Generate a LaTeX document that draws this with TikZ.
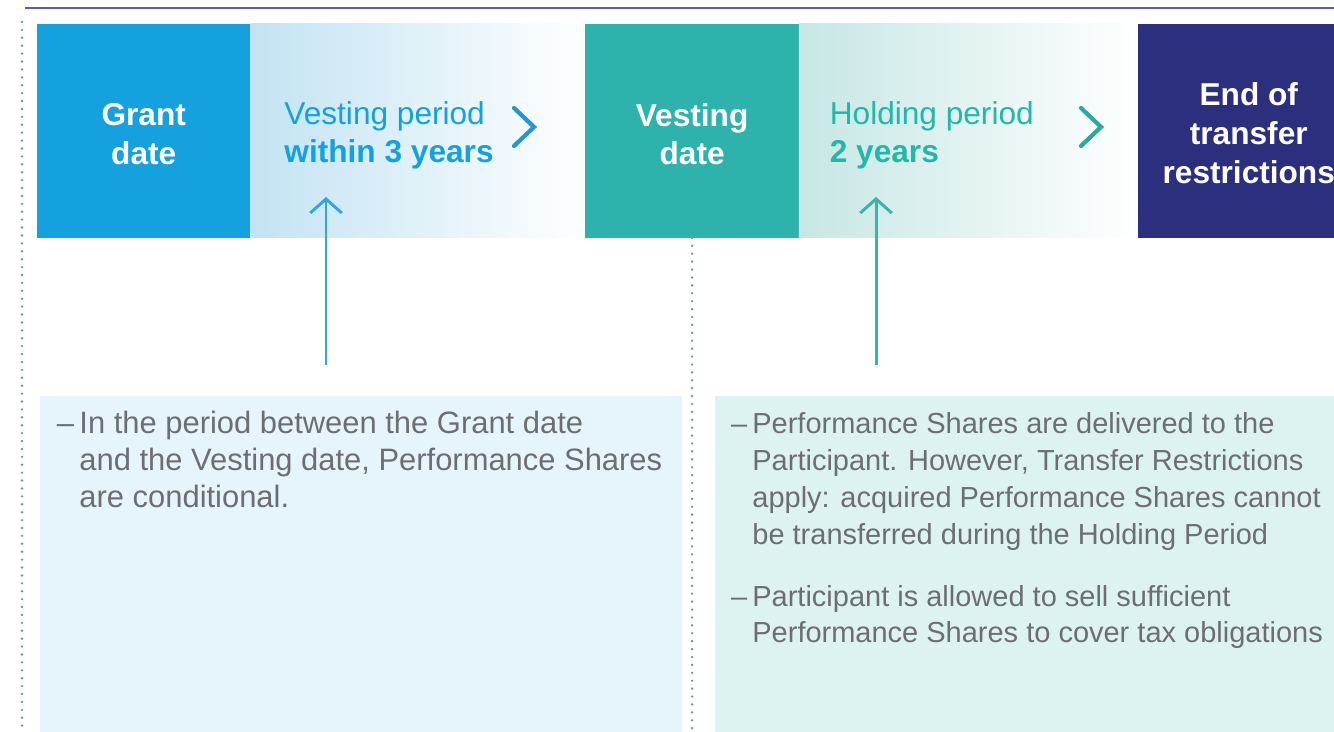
\documentclass[tikz,border=0pt]{standalone}
\usepackage{fontspec}
\setmainfont{Liberation Sans}
\usetikzlibrary{arrows.meta,positioning}
\definecolor{TopRule}{HTML}{5B57C9}
\definecolor{GrantBlue}{HTML}{15A1DD}
\definecolor{VestShade}{HTML}{C2E3F2}
\definecolor{VestTeal}{HTML}{2DB3AC}
\definecolor{HoldShade}{HTML}{C6E7E5}
\definecolor{EndNavy}{HTML}{2B2F7D}
\definecolor{ChevBlue}{HTML}{2596CF}
\definecolor{ChevTeal}{HTML}{2BAC9B}
\definecolor{ArrowBlue}{HTML}{38A6DE}
\definecolor{ArrowTeal}{HTML}{3AB4A8}
\definecolor{HoldText}{HTML}{22B8A6}
\definecolor{NoteBlue}{HTML}{E6F5FC}
\definecolor{NoteTeal}{HTML}{DDF3F1}
\definecolor{NoteText}{HTML}{6D6E72}
\definecolor{DotGrey}{HTML}{6F9499}
\tikzset{every node/.style={inner sep=0pt,outer sep=0pt},
 stage/.style={minimum width=4.27cm,minimum height=4.28cm},
 stagetext/.style={text=white,align=center,font=\fontsize{18}{22}\selectfont\bfseries},
 period/.style={minimum height=4.28cm},
 phase/.style={align=left,font=\fontsize{18}{22}\selectfont},
 chev/.style={line width=2.4pt,line cap=round,line join=miter},
 uparrow/.style={line width=1.7pt,-{Straight Barb[length=8pt,width=18pt,line width=1.7pt]}},
 dotline/.style={DotGrey,line width=1.5pt,line cap=round,dash pattern=on 0pt off 4.5pt},
 note/.style={minimum height=7cm,anchor=north west},
 notetext/.style={anchor=north west,text=NoteText,font=\fontsize{16.5}{21}\selectfont}}

\begin{document}
\begin{tikzpicture}[x=0.02cm,y=-0.02cm]
\useasboundingbox (0,0) rectangle (1334,732);
\clip (0,0) rectangle (1334,732);
\draw[TopRule,line width=0.9pt] (25,8) -- (1340,8);
\draw[dotline] (22,22) -- (22,736);

\node[stage,fill=GrantBlue,anchor=north west] (grant) at (37,24) {};
\node[period,minimum width=6.7cm,left color=VestShade,right color=white,right=0pt of grant] (vestper) {};
\node[stage,fill=VestTeal,right=0pt of vestper] (vest) {};
\node[period,minimum width=6.78cm,left color=HoldShade,right color=white,right=0pt of vest] (holdper) {};
\node[stage,fill=EndNavy,minimum width=4.44cm,right=0pt of holdper] (end) {};
\node[stagetext] (granttxt) at ([yshift=-1.8pt]grant.center) {Grant\\date};
\node[stagetext] (vestdtxt) at ([yshift=-1.8pt]vest.center) {Vesting\\date};
\node[stagetext] (endtxt) at ([yshift=-1.2pt]end.center) {End of\\transfer\\restrictions};

\node[phase,text=GrantBlue,right=0.68cm of grant,yshift=-2.4pt] (vesttxt) {Vesting period\\\textbf{within 3 years}};
\node[phase,text=HoldText,right=0.62cm of vest,yshift=-2.4pt] (holdtxt) {Holding period\\\textbf{2 years}};
\draw[chev,ChevBlue] (514,108) -- (534,127) -- (514,146);
\draw[chev,ChevTeal] (1081,108) -- (1101,127) -- (1081,146);

\draw[dotline] (vest.south) -- (vest.south |- 0,736);

\node[note,fill=NoteBlue,minimum width=12.84cm] (note1) at (40,396) {};
\node[note,fill=NoteTeal,minimum width=12.6cm] (note2) at (715,396) {};
\node[notetext,font=\fontsize{17.6}{21}\selectfont] (txt1) at ([xshift=0.34cm,yshift=-0.24cm]note1.north west)
 {\begin{tabular}{@{}l@{\hspace{3pt}}l@{}}
 -- & In the period between the Grant date\\
    & and the Vesting date, Performance Shares\\
    & are conditional.
 \end{tabular}};
\node[notetext] (txt2) at ([xshift=0.32cm,yshift=-0.24cm]note2.north west)
 {\begin{tabular}{@{}l@{\hspace{3pt}}l@{}}
 -- & Performance Shares are delivered to the\\
    & Participant. However, Transfer Restrictions\\
    & apply: acquired Performance Shares cannot\\
    & be transferred during the Holding Period\\[14pt]
 -- & Participant is allowed to sell sufficient\\
    & Performance Shares to cover tax obligations
 \end{tabular}};

\coordinate (vestfoot) at (326,365);
\coordinate (vesthead) at (326,197);
\coordinate (holdfoot) at (876,365);
\coordinate (holdhead) at (876,197);
\draw[uparrow,ArrowBlue] (vestfoot) -- (vesthead);
\draw[uparrow,ArrowTeal] (holdfoot) -- (holdhead);
\end{tikzpicture}
\end{document}
